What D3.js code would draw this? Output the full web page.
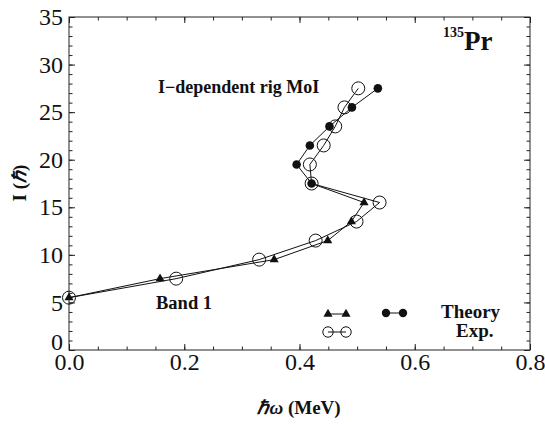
<!DOCTYPE html>
<html>
<head>
<meta charset="utf-8">
<script src="https://cdn.jsdelivr.net/npm/d3@7"></script>
<style>
  html, body { margin: 0; padding: 0; background: #fff; }
  svg { display: block; }
  text { font-family: "Liberation Serif", "Times New Roman", Times, serif; fill: #111; }
</style>
</head>
<body>
<svg id="chart" width="545" height="426"></svg>
<script>
// Spin values (ħ) of the band members
const expSpin = [5.5, 7.5, 9.5, 11.5, 13.5, 15.5, 17.5, 19.5, 21.5, 23.5, 25.5, 27.5];
// Experimental rotational frequency ħω (MeV)
const expOmega = [0.0, 0.186, 0.330, 0.428, 0.499, 0.539, 0.421, 0.418, 0.442, 0.462, 0.478, 0.502];

// Theory, lower part of the band (triangles)
const theoryLowSpin = [5.5, 7.5, 9.5, 11.5, 13.5, 15.5];
const theoryLowOmega = [0.0, 0.158, 0.356, 0.449, 0.490, 0.512];
// Theory, upper part of the band (filled circles)
const theoryHighSpin = [17.5, 19.5, 21.5, 23.5, 25.5, 27.5];
const theoryHighOmega = [0.421, 0.395, 0.418, 0.452, 0.491, 0.536];

// Axis ticks
const xMajorTicks = [0.0, 0.2, 0.4, 0.6, 0.8];
const xMinorTicks = d3.range(0, 0.8001, 0.05);
const yMajorTicks = [0, 5, 10, 15, 20, 25, 30, 35];
const yMinorTicks = d3.range(0, 35.001, 1);

const svg = d3.select("#chart");
const plotL = 69, plotR = 530, plotT = 17, plotB = 350;

const x = d3.scaleLinear().domain([0, 0.8]).range([plotL, plotR]);
const y = d3.scaleLinear().domain([0, 35]).range([plotB, plotT]);

// Minor ticks (inside, all four sides)
function minor(axis, tr, vals) {
  svg.append("g").attr("transform", tr)
    .call(axis.tickValues(vals).tickSize(-3.5).tickFormat(""))
    .call(g => g.select(".domain").remove())
    .selectAll("line").attr("stroke", "#222");
}
minor(d3.axisBottom(x), `translate(0,${plotB})`, xMinorTicks);
minor(d3.axisTop(x), `translate(0,${plotT})`, xMinorTicks);
minor(d3.axisLeft(y), `translate(${plotL},0)`, yMinorTicks);
minor(d3.axisRight(y), `translate(${plotR},0)`, yMinorTicks);

// Major ticks with labels
svg.append("g").attr("transform", `translate(0,${plotB})`)
  .call(d3.axisBottom(x).tickValues(xMajorTicks).tickSize(-6).tickPadding(3).tickFormat(d3.format(".1f")))
  .call(g => g.select(".domain").remove())
  .call(g => g.selectAll("line").attr("stroke", "#222"))
  .call(g => g.selectAll("text").attr("font-size", 24).attr("fill", "#222"));
svg.append("g").attr("transform", `translate(${plotL},0)`)
  .call(d3.axisLeft(y).tickValues(yMajorTicks).tickSize(-6).tickPadding(6).tickFormat(d3.format("d")))
  .call(g => g.select(".domain").remove())
  .call(g => g.selectAll("line").attr("stroke", "#222"))
  .call(g => g.selectAll("text").attr("font-size", 24).attr("fill", "#222"))
  // the zero label sits a little higher so it clears the 0.0 below it
  .call(g => g.selectAll("text").filter(d => d === 0).attr("y", -8));
svg.append("g").attr("transform", `translate(0,${plotT})`)
  .call(d3.axisTop(x).tickValues(xMajorTicks).tickSize(-6).tickFormat(""))
  .call(g => g.select(".domain").remove())
  .selectAll("line").attr("stroke", "#222");
svg.append("g").attr("transform", `translate(${plotR},0)`)
  .call(d3.axisRight(y).tickValues(yMajorTicks).tickSize(-6).tickFormat(""))
  .call(g => g.select(".domain").remove())
  .selectAll("line").attr("stroke", "#222");

// Frame
svg.append("rect")
  .attr("x", plotL).attr("y", plotT)
  .attr("width", plotR - plotL).attr("height", plotB - plotT)
  .attr("fill", "none").attr("stroke", "#222").attr("stroke-width", 1);

const line = d3.line().x(d => x(d[0])).y(d => y(d[1]));

const expPts = expOmega.map((w, i) => [w, expSpin[i]]);
const thLow = theoryLowOmega.map((w, i) => [w, theoryLowSpin[i]]);
const thHigh = theoryHighOmega.map((w, i) => [w, theoryHighSpin[i]]);

// Connecting lines
svg.append("path").attr("d", line(thLow.concat(thHigh)))
  .attr("fill", "none").attr("stroke", "#111").attr("stroke-width", 1);
svg.append("path").attr("d", line(expPts))
  .attr("fill", "none").attr("stroke", "#111").attr("stroke-width", 1);

// Markers
const tri = d3.symbol().type(d3.symbolTriangle).size(36);
svg.append("g").selectAll("path").data(thLow).join("path")
  .attr("d", tri).attr("transform", d => `translate(${x(d[0])},${y(d[1])})`)
  .attr("fill", "#111");
svg.append("g").selectAll("circle").data(thHigh).join("circle")
  .attr("cx", d => x(d[0])).attr("cy", d => y(d[1])).attr("r", 4.3)
  .attr("fill", "#111");
svg.append("g").selectAll("circle").data(expPts).join("circle")
  .attr("cx", d => x(d[0])).attr("cy", d => y(d[1])).attr("r", 6.5)
  .attr("fill", "none").attr("stroke", "#111").attr("stroke-width", 1);

// Legend
const lg = svg.append("g");
lg.append("line").attr("x1", 328).attr("x2", 346).attr("y1", 314).attr("y2", 314).attr("stroke", "#111");
[328, 346].forEach(cx => lg.append("path").attr("d", tri).attr("transform", `translate(${cx},314)`).attr("fill", "#111"));
lg.append("line").attr("x1", 386).attr("x2", 403).attr("y1", 313).attr("y2", 313).attr("stroke", "#111");
[386, 403].forEach(cx => lg.append("circle").attr("cx", cx).attr("cy", 313).attr("r", 4.2).attr("fill", "#111"));
lg.append("line").attr("x1", 328).attr("x2", 346).attr("y1", 332).attr("y2", 332).attr("stroke", "#111");
[328, 346].forEach(cx => lg.append("circle").attr("cx", cx).attr("cy", 332).attr("r", 5.2)
  .attr("fill", "none").attr("stroke", "#111"));
lg.append("text").attr("x", 441).attr("y", 318).attr("font-size", 19).attr("font-weight", "bold").text("Theory");
lg.append("text").attr("x", 456).attr("y", 337).attr("font-size", 19).attr("font-weight", "bold").text("Exp.");

// Annotations
svg.append("text").attr("x", 158).attr("y", 93).attr("font-size", 18).attr("font-weight", "bold")
  .text("I\u2212dependent rig MoI");
svg.append("text").attr("x", 156).attr("y", 309).attr("font-size", 18.5).attr("font-weight", "bold")
  .text("Band 1");
const nuc = svg.append("text").attr("x", 443).attr("y", 50).attr("font-weight", "bold");
nuc.append("tspan").attr("font-size", 14).attr("dy", -13).text("135");
nuc.append("tspan").attr("font-size", 27).attr("dy", 13).text("Pr");

// Axis titles
const yt = svg.append("text")
  .attr("transform", "translate(26,183) rotate(-90)")
  .attr("text-anchor", "middle").attr("font-size", 19).attr("font-weight", "bold");
yt.append("tspan").text("I (");
yt.append("tspan").attr("font-style", "italic").text("\u210F");
yt.append("tspan").text(")");

const xt = svg.append("text")
  .attr("x", 299).attr("y", 414)
  .attr("text-anchor", "middle").attr("font-size", 19).attr("font-weight", "bold");
xt.append("tspan").attr("font-style", "italic").text("\u210F\u03C9");
xt.append("tspan").text(" (MeV)");
</script>
</body>
</html>
